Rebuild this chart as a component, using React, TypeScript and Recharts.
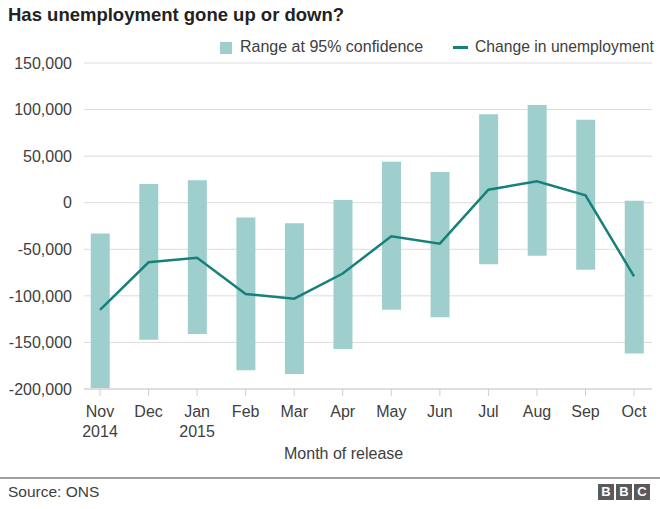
import React from "react";
import {
  ComposedChart,
  Bar,
  Line,
  XAxis,
  YAxis,
  CartesianGrid,
} from "recharts";

const months = ["Nov", "Dec", "Jan", "Feb", "Mar", "Apr", "May", "Jun", "Jul", "Aug", "Sep", "Oct"];
const years = ["2014", "", "2015", "", "", "", "", "", "", "", "", ""];
const rangeLow = [-199000, -147000, -141000, -180000, -184000, -157000, -115000, -123000, -66000, -57000, -72000, -162000];
const rangeHigh = [-33000, 20000, 24000, -16000, -22000, 3000, 44000, 33000, 95000, 105000, 89000, 2000];
const change = [-115000, -64000, -59000, -98000, -103000, -76000, -36000, -44000, 14000, 23000, 8000, -79000];
const yTicks = [-200000, -150000, -100000, -50000, 0, 50000, 100000, 150000];

const data = months.map((m, i) => ({
  idx: i,
  range: [rangeLow[i], rangeHigh[i]],
  change: change[i],
}));

const BAR = "#9fcfcc";
const LINE = "#17807b";
const TEXT = "#404040";
const FONT = "'Liberation Sans', Arial, sans-serif";

const MonthTick = ({ x, y, payload }: any) => {
  const i = payload.value;
  return (
    <g>
      <text x={x} y={y + 21} textAnchor="middle" fill={TEXT} fontSize={16} fontFamily={FONT}>
        {months[i]}
      </text>
      {years[i] && (
        <text x={x} y={y + 41} textAnchor="middle" fill={TEXT} fontSize={16} fontFamily={FONT}>
          {years[i]}
        </text>
      )}
    </g>
  );
};

export default function App() {
  return (
    <div
      style={{
        position: "absolute",
        left: 0,
        top: 0,
        width: 660,
        height: 509,
        background: "#fff",
        fontFamily: FONT,
        color: TEXT,
      }}
    >
      <div
        style={{
          position: "absolute",
          left: 8,
          top: 4,
          fontSize: 18.5,
          fontWeight: "bold",
          color: "#222",
          whiteSpace: "nowrap",
        }}
      >
        Has unemployment gone up or down?
      </div>

      {/* legend */}
      <div style={{ position: "absolute", left: 220, top: 42, width: 12, height: 12, background: BAR }} />
      <div style={{ position: "absolute", left: 240, top: 38, fontSize: 16, whiteSpace: "nowrap" }}>
        Range at 95% confidence
      </div>
      <div style={{ position: "absolute", left: 453, top: 46, width: 15, height: 2.5, background: LINE }} />
      <div style={{ position: "absolute", left: 475, top: 38, fontSize: 15.7, whiteSpace: "nowrap" }}>
        Change in unemployment
      </div>

      <div style={{ position: "absolute", left: 0, top: 0 }}>
        <ComposedChart
          width={660}
          height={509}
          data={data}
          margin={{ top: 63, right: 8, bottom: 60, left: 0 }}
        >
          <CartesianGrid vertical={false} stroke="#dcdcdc" strokeWidth={1} />
          <XAxis
            dataKey="idx"
            type="number"
            domain={[-0.33, 11.37]}
            ticks={months.map((_, i) => i)}
            allowDataOverflow
            height={60}
            axisLine={{ stroke: "#cfcfcf" }}
            tickLine={{ stroke: "#cfcfcf" }}
            tickSize={7}
            tickMargin={0}
            tick={<MonthTick />}
            interval={0}
          />
          <YAxis
            type="number"
            domain={[-200000, 150000]}
            ticks={yTicks}
            width={84}
            axisLine={false}
            tickLine={false}
            tickMargin={6}
            tickFormatter={(v: number) => v.toLocaleString("en-US")}
            tick={{ fill: TEXT, fontSize: 16, fontFamily: FONT }}
            interval={0}
          />
          <Bar dataKey="range" fill={BAR} barSize={19} isAnimationActive={false} />
          <Line
            type="linear"
            dataKey="change"
            stroke={LINE}
            strokeWidth={2.5}
            dot={false}
            activeDot={false}
            isAnimationActive={false}
          />
        </ComposedChart>
      </div>

      <div style={{ position: "absolute", left: 284, top: 445, fontSize: 16, whiteSpace: "nowrap" }}>
        Month of release
      </div>

      {/* footer */}
      <div style={{ position: "absolute", left: 0, top: 477, width: 660, height: 2, background: "#a0a0a0" }} />
      <div style={{ position: "absolute", left: 8, top: 483, fontSize: 15.5, whiteSpace: "nowrap" }}>
        Source: ONS
      </div>
      <div style={{ position: "absolute", left: 598, top: 484, display: "flex", gap: 2 }}>
        {["B", "B", "C"].map((c, i) => (
          <div
            key={i}
            style={{
              width: 16,
              height: 16,
              background: "#5a5a5a",
              color: "#fff",
              fontWeight: "bold",
              fontSize: 13,
              lineHeight: "16px",
              textAlign: "center",
            }}
          >
            {c}
          </div>
        ))}
      </div>
    </div>
  );
}
